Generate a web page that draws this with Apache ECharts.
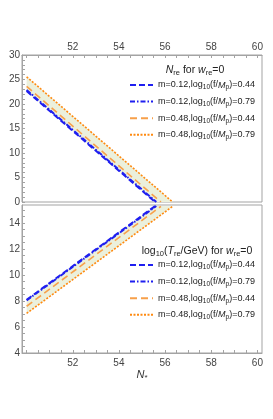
<!DOCTYPE html>
<html>
<head>
<meta charset="utf-8">
<script src="https://cdn.jsdelivr.net/npm/echarts@6/dist/echarts.min.js"></script>
<style>html,body{margin:0;padding:0;background:#fff;}#c{width:273px;height:419px;}</style>
</head>
<body>
<div id="c"></div>
<script>
// ---- data ----
const seriesNames = [
  'm=0.12,log{sub|10}(f/{it|M}{sub|p})=0.44',
  'm=0.12,log{sub|10}(f/{it|M}{sub|p})=0.79',
  'm=0.48,log{sub|10}(f/{it|M}{sub|p})=0.44',
  'm=0.48,log{sub|10}(f/{it|M}{sub|p})=0.79'
];
// Top panel: N_re vs N*
const nreBlueDash   = [[50, 22.65], [55.57, 0]];
const nreBlueDotDash = [[50, 22.85], [55.62, 0]];
const nreOrangeDash = [[50, 23.6], [55.82, 0]];
const nreOrangeDot  = [[50, 25.55], [56.33, 0]];
// Bottom panel: log10(T_re/GeV) vs N*
const treBlueDash   = [[50, 8.1], [55.57, 15.32]];
const treBlueDotDash = [[50, 8.05], [55.62, 15.32]];
const treOrangeDash = [[50, 7.6], [55.82, 15.3]];
const treOrangeDot  = [[50, 7.05], [56.33, 15.3]];
// Tick labels / tick marks
const xTickLabels = [52, 54, 56, 58, 60];
const xTickMarks = [50, 50.5, 51, 51.5, 52, 52.5, 53, 53.5, 54, 54.5, 55, 55.5, 56, 56.5, 57, 57.5, 58, 58.5, 59, 59.5, 60];
const yTopLabels = [0, 5, 10, 15, 20, 25, 30];
const yTopMarks = [0,1,2,3,4,5,6,7,8,9,10,11,12,13,14,15,16,17,18,19,20,21,22,23,24,25,26,27,28,29,30];
const yBotLabels = [4, 6, 8, 10, 12, 14];
const yBotMarks = [4, 4.5, 5, 5.5, 6, 6.5, 7, 7.5, 8, 8.5, 9, 9.5, 10, 10.5, 11, 11.5, 12, 12.5, 13, 13.5, 14, 14.5, 15];

const BLUE = '#1f1ff0';
const ORANGE_D = '#f7a04a';
const ORANGE_DOT = '#ff8a10';
const FILL = '#ebf0dc';
const FRAME = '#a3a3a3';
const FONT = 'Liberation Sans, Arial, sans-serif';

const styles = [
  {color: BLUE, width: 2, type: [6, 3]},
  {color: BLUE, width: 2, type: [5, 2, 1.5, 2]},
  {color: ORANGE_D, width: 1.6, type: [7, 4]},
  {color: ORANGE_DOT, width: 1.6, type: [2, 1.5]}
];

const richLegend = {
  sub: {fontSize: 6.6, verticalAlign: 'bottom', lineHeight: 8, padding: [4, 0, 0, 0], fontFamily: FONT, color: '#222'},
  it: {fontStyle: 'italic', fontSize: 9, fontFamily: FONT, color: '#222', lineHeight: 12}
};

function lineSeries(name, data, idx, style) {
  return {
    type: 'line', name: name, data: data, xAxisIndex: idx, yAxisIndex: idx,
    symbol: 'none', showSymbol: false, animation: false, z: 3,
    lineStyle: {color: style.color, width: style.width, type: style.type},
    itemStyle: {color: style.color}
  };
}
function bandSeries(upper, lower, idx) {
  return {
    type: 'custom', xAxisIndex: idx, yAxisIndex: idx, data: [0], animation: false, z: 1, clip: true,
    renderItem: function (params, api) {
      const pts = upper.map(p => api.coord(p)).concat(lower.slice().reverse().map(p => api.coord(p)));
      return {type: 'polygon', shape: {points: pts}, style: {fill: FILL, stroke: null}};
    }
  };
}

function xAxis(idx, pos) {
  const a = {
    type: 'value', gridIndex: idx, position: pos, min: 49.8, max: 60.2,
    axisLine: {show: true, onZero: false, lineStyle: {color: FRAME, width: 1}},
    axisTick: {show: true, inside: true, length: 3, customValues: xTickMarks, lineStyle: {color: FRAME}},
    axisLabel: {customValues: xTickLabels, margin: pos === 'top' ? 3 : 5, color: '#444', fontSize: 10, fontFamily: FONT},
    splitLine: {show: false}
  };
  if (pos === 'bottom') {
    a.name = '{it|N}{sub|*}';
    a.nameLocation = 'middle';
    a.nameGap = 15;
    a.nameTextStyle = {rich: {
      it: {fontStyle: 'italic', fontSize: 11, fontFamily: FONT, color: '#333', lineHeight: 13},
      sub: {fontSize: 8, fontFamily: FONT, color: '#333', verticalAlign: 'bottom', lineHeight: 8, padding: [5, 0, 0, 0]}
    }};
  }
  return a;
}
function yAxis(idx, min, max, labels, marks) {
  return {
    type: 'value', gridIndex: idx, min: min, max: max,
    axisLine: {show: true, onZero: false, lineStyle: {color: FRAME, width: 1}},
    axisTick: {show: true, inside: true, length: 3, customValues: marks, lineStyle: {color: FRAME}},
    axisLabel: {customValues: labels, margin: 2, color: '#444', fontSize: 10, fontFamily: FONT},
    splitLine: {show: false}
  };
}

const legendCommon = {
  data: seriesNames, orient: 'vertical', left: 124, itemWidth: 23, itemHeight: 12, itemGap: 4.6,
  itemStyle: {opacity: 0, borderWidth: 0},
  textStyle: {fontSize: 9, fontFamily: FONT, color: '#222', lineHeight: 12, rich: richLegend}, selectedMode: false
};

const chart = echarts.init(document.getElementById('c'), null, {renderer: 'canvas'});
chart.setOption({
  animation: false,
  backgroundColor: '#fff',
  grid: [
    {left: 22, top: 55, width: 240, height: 147, show: true, borderColor: FRAME, borderWidth: 1, backgroundColor: 'transparent'},
    {left: 22, top: 205, width: 240, height: 148, show: true, borderColor: FRAME, borderWidth: 1, backgroundColor: 'transparent'}
  ],
  xAxis: [xAxis(0, 'top'), xAxis(1, 'bottom')],
  yAxis: [yAxis(0, 0, 30, yTopLabels, yTopMarks), yAxis(1, 4, 15.4, yBotLabels, yBotMarks)],
  title: [
    {text: '{it|N}{sub|re} for {it|w}{sub|re}=0', left: 190, top: 59, textAlign: 'center',
     textStyle: {fontSize: 10.5, fontWeight: 'normal', fontFamily: FONT, color: '#222', lineHeight: 13,
       rich: {it: {fontStyle: 'italic', fontSize: 10.5, fontFamily: FONT, color: '#222', lineHeight: 13},
              sub: {fontSize: 7.5, fontFamily: FONT, color: '#222', verticalAlign: 'bottom', lineHeight: 8, padding: [5, 0, 0, 0]}}}},
    {text: 'log{sub|10}({it|T}{sub|re}/GeV) for {it|w}{sub|re}=0', left: 192, top: 240, textAlign: 'center',
     textStyle: {fontSize: 10.5, fontWeight: 'normal', fontFamily: FONT, color: '#222', lineHeight: 13,
       rich: {it: {fontStyle: 'italic', fontSize: 10.5, fontFamily: FONT, color: '#222', lineHeight: 13},
              sub: {fontSize: 7.5, fontFamily: FONT, color: '#222', verticalAlign: 'bottom', lineHeight: 8, padding: [5, 0, 0, 0]}}}}
  ],
  legend: [
    Object.assign({}, legendCommon, {top: 74}),
    Object.assign({}, legendCommon, {top: 254})
  ],
  series: [
    bandSeries(nreOrangeDot, nreBlueDash, 0),
    bandSeries(treBlueDash, treOrangeDot, 1),
    lineSeries(seriesNames[0], nreBlueDash, 0, styles[0]),
    lineSeries(seriesNames[1], nreBlueDotDash, 0, styles[1]),
    lineSeries(seriesNames[2], nreOrangeDash, 0, styles[2]),
    lineSeries(seriesNames[3], nreOrangeDot, 0, styles[3]),
    lineSeries(seriesNames[0], treBlueDash, 1, styles[0]),
    lineSeries(seriesNames[1], treBlueDotDash, 1, styles[1]),
    lineSeries(seriesNames[2], treOrangeDash, 1, styles[2]),
    lineSeries(seriesNames[3], treOrangeDot, 1, styles[3])
  ]
});
</script>
</body>
</html>
